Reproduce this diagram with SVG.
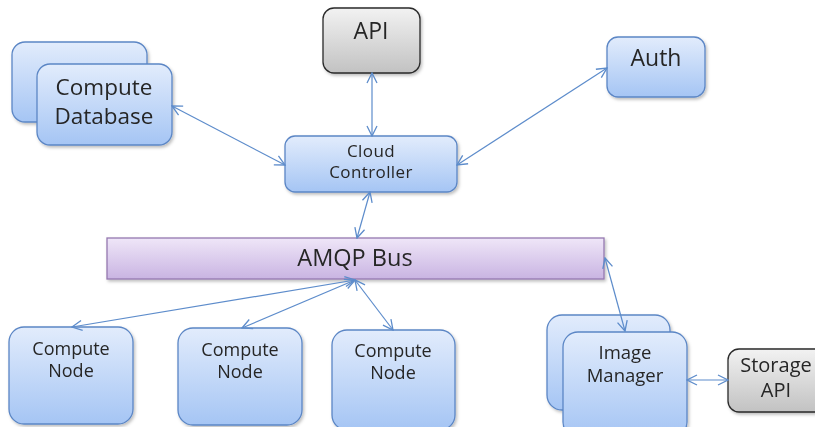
<svg xmlns="http://www.w3.org/2000/svg" width="815" height="427" viewBox="0 0 815 427">
<style>
.blue{fill:url(#gb);stroke:#5b86c5;stroke-width:1.3}
.gray{fill:url(#gg);stroke:#2a2a2a;stroke-width:1.3}
.bus{fill:url(#gp);stroke:#9478b0;stroke-width:1.3}
text{font-family:"Open Sans","Liberation Sans",sans-serif;fill:#262626;text-anchor:middle}
.c{stroke:#5d8ccb;stroke-width:1.2;fill:none;marker-start:url(#ah);marker-end:url(#ah)}
</style>
<defs>
<linearGradient id="gb" x1="0" y1="0" x2="0" y2="1"><stop offset="0" stop-color="#e2ecfc"/><stop offset="1" stop-color="#a5c5f4"/></linearGradient>
<linearGradient id="gg" x1="0" y1="0" x2="0" y2="1"><stop offset="0" stop-color="#f2f2f2"/><stop offset="1" stop-color="#c2c2c2"/></linearGradient>
<linearGradient id="gp" x1="0" y1="0" x2="0" y2="1"><stop offset="0" stop-color="#efe6f8"/><stop offset="1" stop-color="#c9b4e2"/></linearGradient>
<filter id="sh" x="-10%" y="-10%" width="130%" height="130%"><feDropShadow dx="1.5" dy="2" stdDeviation="1.5" flood-color="#000" flood-opacity="0.25"/></filter>
<marker id="ah" viewBox="0 0 12 12" refX="11" refY="6" markerWidth="12" markerHeight="12" markerUnits="userSpaceOnUse" orient="auto-start-reverse"><path d="M1,1 L11,6 L1,11" fill="none" stroke="#5d8ccb" stroke-width="1.3"/></marker>
</defs>
<g id="compute-database" filter="url(#sh)">
<rect class="blue" x="12" y="42" width="135" height="80" rx="13"/>
<rect class="blue" x="37" y="64" width="135" height="81" rx="13"/>
<text x="104" y="95" font-size="22.5">Compute</text>
<text x="104" y="124" font-size="22.5">Database</text>
</g>
<g id="api" filter="url(#sh)">
<rect class="gray" x="323" y="8" width="97" height="65" rx="11"/>
<text x="371" y="39" font-size="23">API</text>
</g>
<g id="auth" filter="url(#sh)">
<rect class="blue" x="607" y="37" width="98" height="60" rx="11"/>
<text x="656" y="66" font-size="23">Auth</text>
</g>
<g id="cloud-controller" filter="url(#sh)">
<rect class="blue" x="285" y="136" width="172" height="56" rx="10"/>
<text x="371" y="157" font-size="17" letter-spacing="0.4">Cloud</text>
<text x="371" y="178" font-size="17" letter-spacing="0.4">Controller</text>
</g>
<g id="amqp-bus" filter="url(#sh)">
<rect class="bus" x="107" y="238" width="497" height="41"/>
<text x="355" y="266" font-size="23.5">AMQP Bus</text>
</g>
<g id="compute-node-1" filter="url(#sh)">
<rect class="blue" x="9" y="327" width="124" height="97" rx="15"/>
<text x="71" y="355" font-size="18">Compute</text>
<text x="71" y="377" font-size="18">Node</text>
</g>
<g id="compute-node-2" filter="url(#sh)">
<rect class="blue" x="178" y="328" width="124" height="97" rx="15"/>
<text x="240" y="356" font-size="18">Compute</text>
<text x="240" y="378" font-size="18">Node</text>
</g>
<g id="compute-node-3" filter="url(#sh)">
<rect class="blue" x="332" y="330" width="123" height="100" rx="15"/>
<text x="393" y="357" font-size="18">Compute</text>
<text x="393" y="379" font-size="18">Node</text>
</g>
<g id="image-manager" filter="url(#sh)">
<rect class="blue" x="547" y="315" width="123" height="95" rx="15"/>
<rect class="blue" x="563" y="332" width="124" height="105" rx="15"/>
<text x="625" y="359" font-size="18.5">Image</text>
<text x="625" y="382" font-size="18.5">Manager</text>
</g>
<g id="storage-api" filter="url(#sh)">
<rect class="gray" x="728" y="349" width="100" height="63" rx="11"/>
<text x="776" y="372" font-size="20">Storage</text>
<text x="776" y="397" font-size="20">API</text>
</g>
<g id="connectors">
<line class="c" x1="172" y1="106" x2="285" y2="165"/>
<line class="c" x1="372" y1="73" x2="372" y2="136"/>
<line class="c" x1="607" y1="68" x2="457" y2="165"/>
<line class="c" x1="370" y1="192" x2="357" y2="238"/>
<line class="c" x1="355" y1="280" x2="72" y2="327"/>
<line class="c" x1="355" y1="280" x2="242" y2="328"/>
<line class="c" x1="355" y1="280" x2="393" y2="330"/>
<line class="c" x1="605" y1="258" x2="625" y2="331"/>
<line class="c" x1="687" y1="380" x2="728" y2="380"/>
</g>
</svg>
